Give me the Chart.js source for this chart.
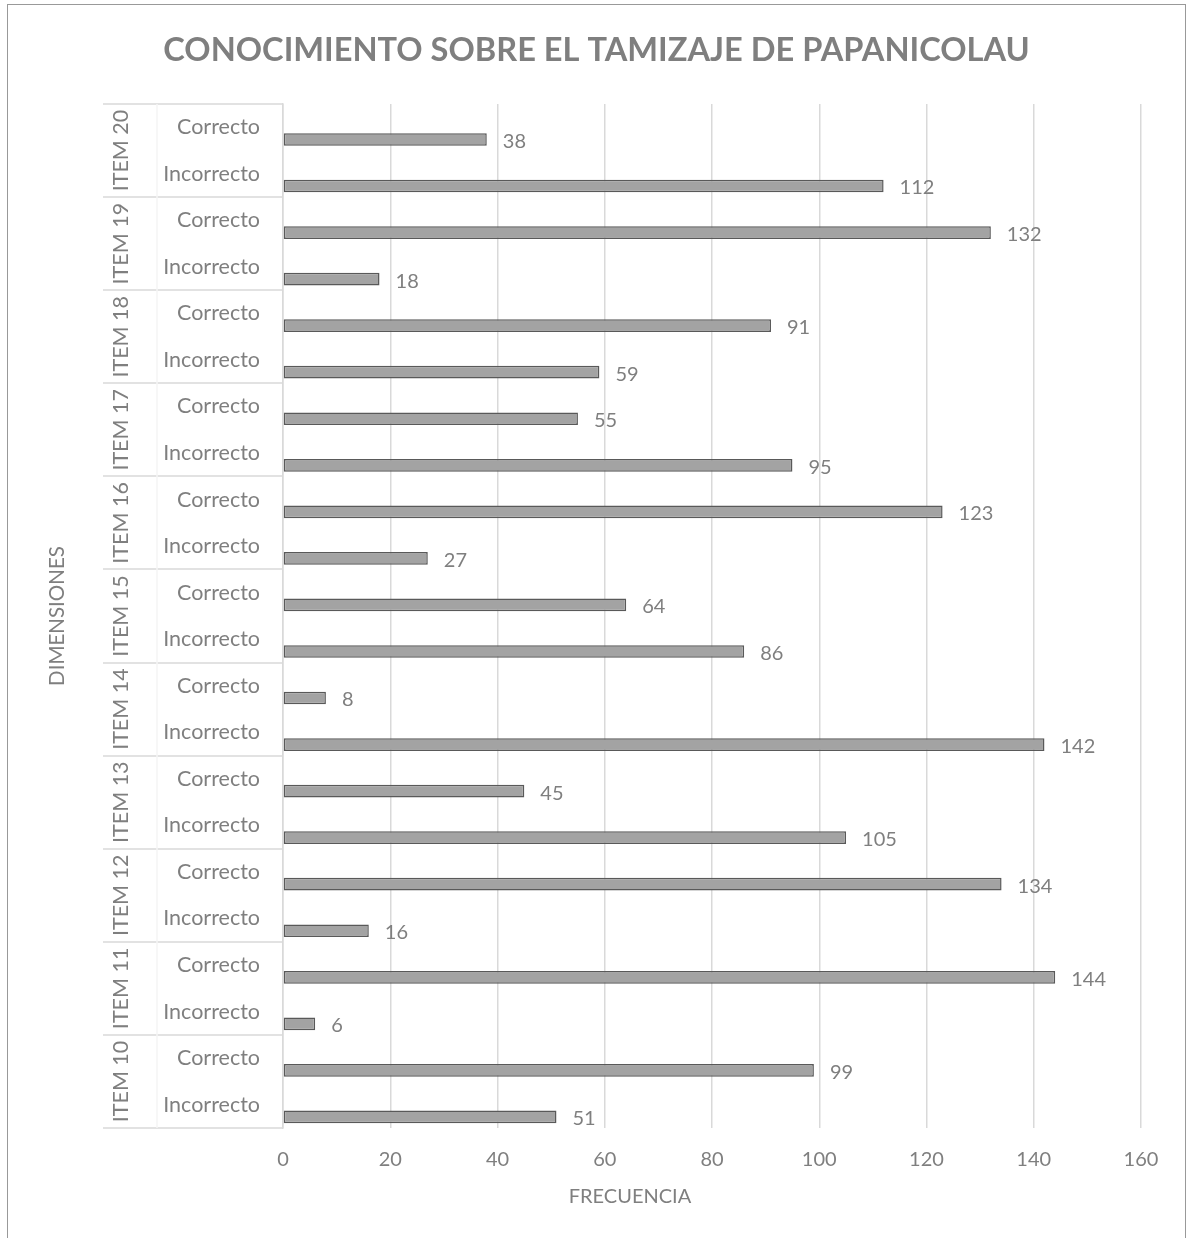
<!DOCTYPE html>
<html>
<head>
<meta charset="utf-8">
<script src="https://cdn.jsdelivr.net/npm/chart.js@4.4.1/dist/chart.umd.min.js"></script>
<style>
  html, body { margin: 0; padding: 0; background: #fff; }
  #wrap { width: 1190px; height: 1238px; }
</style>
</head>
<body>
<div id="wrap"><canvas id="chart" width="1190" height="1238"></canvas></div>
<script>
// data, top to bottom as in the chart
const items = ['ITEM 20', 'ITEM 19', 'ITEM 18', 'ITEM 17', 'ITEM 16', 'ITEM 15',
               'ITEM 14', 'ITEM 13', 'ITEM 12', 'ITEM 11', 'ITEM 10'];
const answers = ['Correcto', 'Incorrecto'];
const correcto   = [38, 132, 91, 55, 123, 64, 8, 45, 134, 144, 99];
const incorrecto = [112, 18, 59, 95, 27, 86, 142, 105, 16, 6, 51];
const xTicks = [0, 20, 40, 60, 80, 100, 120, 140, 160];

const grey = '#7f7f7f';
const gridGrey = '#d9d9d9';
Chart.defaults.font.family = 'Lato';
Chart.defaults.color = grey;

// one row per answer
const labels = [];
const values = [];
items.forEach((item, i) => {
  labels.push(answers[0], answers[1]);
  values.push(correcto[i], incorrecto[i]);
});

// group labels, value labels, axis titles and frame
const extras = {
  id: 'extras',
  afterDraw(chart) {
    const { ctx, chartArea } = chart;
    const y = chart.scales.y;
    const rowH = (chartArea.bottom - chartArea.top) / labels.length;
    ctx.save();

    // value labels next to bars
    ctx.font = '20px Lato';
    ctx.fillStyle = grey;
    ctx.textAlign = 'left';
    ctx.textBaseline = 'middle';
    chart.getDatasetMeta(1).data.forEach((bar, i) => {
      ctx.fillText(String(values[i]), bar.x + 16, bar.y + 2);
    });

    // separators between items
    ctx.strokeStyle = gridGrey;
    ctx.lineWidth = 1.5;
    for (let i = 0; i <= items.length; i++) {
      const yy = Math.round(y.getPixelForTick(Math.min(i * 2, labels.length - 1)) +
        (i * 2 < labels.length ? -rowH / 2 : rowH / 2));
      ctx.beginPath();
      ctx.moveTo(103, yy);
      ctx.lineTo(chartArea.left, yy);
      ctx.stroke();
    }
    ctx.strokeStyle = '#f4f4f4';
    ctx.beginPath();
    ctx.moveTo(157, chartArea.top);
    ctx.lineTo(157, chartArea.bottom);
    ctx.stroke();

    // item labels, rotated
    ctx.font = '21.5px Lato';
    items.forEach((item, i) => {
      const yc = (y.getPixelForTick(i * 2) + y.getPixelForTick(i * 2 + 1)) / 2;
      ctx.save();
      ctx.translate(121, yc);
      ctx.rotate(-Math.PI / 2);
      ctx.textAlign = 'center';
      ctx.fillText(item, 0, 0);
      ctx.restore();
    });

    // axis titles
    ctx.font = '20.5px Lato';
    ctx.textAlign = 'center';
    ctx.save();
    ctx.translate(57, (chartArea.top + chartArea.bottom) / 2);
    ctx.rotate(-Math.PI / 2);
    ctx.fillText('DIMENSIONES', 0, 0);
    ctx.restore();
    ctx.font = '20px Lato';
    ctx.fillText('FRECUENCIA', 630, 1197);

    // outer frame
    ctx.strokeStyle = '#999999';
    ctx.lineWidth = 1;
    ctx.strokeRect(7.5, 4.5, 1178, 1300);
    ctx.restore();
  }
};

new Chart(document.getElementById('chart'), {
  type: 'bar',
  data: {
    labels: labels,
    datasets: [{
      label: 'hueco',
      data: labels.map(() => null),
      categoryPercentage: 1.048,
      barPercentage: 0.52
    }, {
      label: 'Frecuencia',
      data: values,
      backgroundColor: '#a3a3a3',
      borderColor: '#595959',
      borderWidth: 1.5,
      borderSkipped: false,
      categoryPercentage: 1.048,
      barPercentage: 0.52
    }]
  },
  options: {
    indexAxis: 'y',
    responsive: false,
    animation: false,
    devicePixelRatio: 1,
    layout: { padding: { top: 0, left: 52, right: 49, bottom: 0 } },
    plugins: {
      legend: { display: false },
      tooltip: { enabled: false },
      title: {
        display: true,
        text: 'CONOCIMIENTO SOBRE EL TAMIZAJE DE PAPANICOLAU',
        color: grey,
        font: { size: 32.6, weight: 'bold' },
        padding: { top: 31, bottom: 33.9 }
      }
    },
    scales: {
      x: {
        min: 0,
        max: 160,
        afterBuildTicks: (scale) => { scale.ticks = xTicks.map(v => ({ value: v })); },
        ticks: { font: { size: 20 }, padding: 20 },
        grid: { color: gridGrey, lineWidth: 1.5, drawTicks: false },
        border: { display: false },
        afterFit: (scale) => { scale.height = 110; }
      },
      y: {
        grid: { display: false, drawTicks: false },
        border: { display: true, color: gridGrey, width: 1.5 },
        ticks: { font: { size: 21.5 }, padding: 23, autoSkip: false },
        afterFit: (scale) => { scale.width = 231; }
      }
    }
  },
  plugins: [extras]
});
</script>
</body>
</html>
